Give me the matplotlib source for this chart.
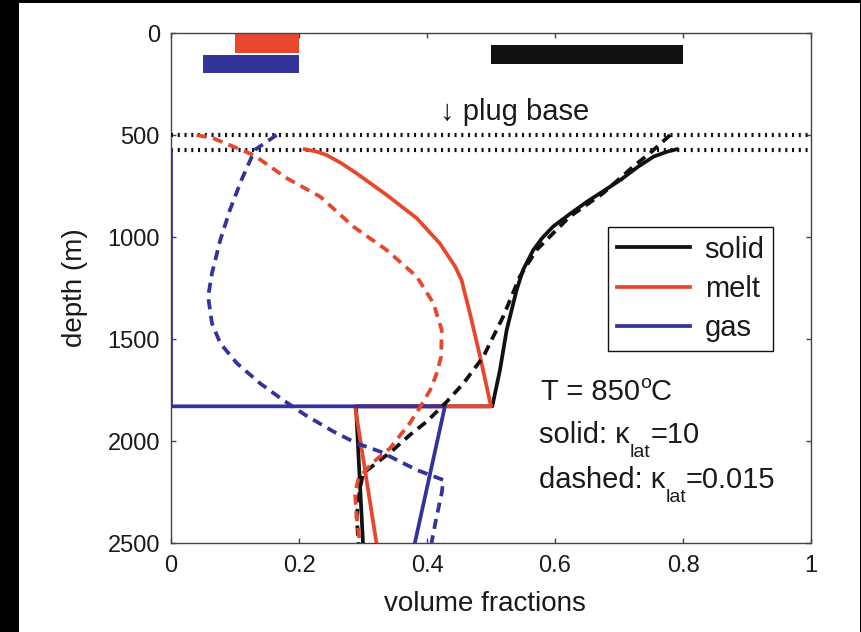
import matplotlib
matplotlib.use("Agg")
import matplotlib.pyplot as plt
from matplotlib.patches import Rectangle
from matplotlib.lines import Line2D
from matplotlib.legend_handler import HandlerLine2D

plt.rcParams['font.family'] = ['Liberation Sans', 'DejaVu Sans']

# ---------------- data ----------------
# solid lines: kappa_lat = 10
solid_k10_depth = [570, 582, 606, 655, 721, 827, 890, 949, 1005, 1064, 1162, 1260, 1456, 1652, 1830, 1830, 2500]
solid_k10_frac = [0.790, 0.775, 0.754, 0.730, 0.702, 0.650, 0.622, 0.597, 0.580, 0.566, 0.550, 0.540, 0.5245, 0.514, 0.502, 0.289, 0.300]

melt_k10_depth = [570, 580, 598, 638, 688, 794, 908, 1031, 1145, 1211, 1374, 1587, 1830, 1830, 2500]
melt_k10_frac = [0.209, 0.226, 0.243, 0.266, 0.290, 0.337, 0.384, 0.420, 0.444, 0.454, 0.467, 0.483, 0.500, 0.2875, 0.321]

gas_k10_depth = [573, 1830, 1830, 2500]
gas_k10_frac = [0.0, 0.0, 0.428, 0.381]

# dashed lines: kappa_lat = 0.015
solid_k0015_depth = [500, 590, 655, 786, 900, 1064, 1194, 1390, 1587, 1717, 1807, 1905, 1971, 2044, 2101, 2158, 2240, 2371, 2500]
solid_k0015_frac = [0.780, 0.748, 0.722, 0.675, 0.623, 0.571, 0.545, 0.519, 0.488, 0.457, 0.431, 0.3995, 0.373, 0.347, 0.324, 0.300, 0.295, 0.290, 0.293]

melt_k0015_depth = [500, 516, 598, 712, 802, 949, 1064, 1194, 1325, 1456, 1587, 1670, 1750, 1830, 1913, 2036, 2109, 2183, 2256, 2371, 2500]
melt_k0015_frac = [0.040, 0.066, 0.129, 0.181, 0.233, 0.285, 0.337, 0.384, 0.410, 0.423, 0.422, 0.415, 0.405, 0.390, 0.373, 0.342, 0.314, 0.293, 0.2875, 0.290, 0.295]

gas_k0015_depth = [500, 573, 721, 868, 1015, 1178, 1292, 1423, 1521, 1619, 1717, 1799, 1873, 1954, 2011, 2052, 2142, 2191, 2256, 2371, 2500]
gas_k0015_frac = [0.165, 0.131, 0.110, 0.092, 0.077, 0.064, 0.058, 0.064, 0.077, 0.103, 0.139, 0.175, 0.210, 0.254, 0.290, 0.327, 0.384, 0.4255, 0.423, 0.415, 0.407]

# observed ranges (bars at top)
range_labels = ['melt', 'gas', 'solid']
range_min = [0.10, 0.05, 0.50]
range_max = [0.20, 0.20, 0.80]
range_depth_top = [0, 108, 60]
range_depth_bottom = [100, 198, 150]

plug_depths = [500, 572]

x_ticks = [0, 0.2, 0.4, 0.6, 0.8, 1]
x_tick_labels = ['0', '0.2', '0.4', '0.6', '0.8', '1']
y_ticks = [0, 500, 1000, 1500, 2000, 2500]

RED = '#E8472E'
BLUE = '#33339A'
BLACK = '#111111'
TXT = '#1a1a1a'

# ---------------- figure ----------------
fig = plt.figure(figsize=(8.62, 6.32), dpi=100)
fig.patch.set_facecolor('white')
for (x0, y0, w, h) in [(0, 0, 19 / 862, 1), (0, 1 - 3 / 632, 1, 3 / 632), (1 - 2 / 862, 0, 2 / 862, 1)]:
    fig.patches.append(Rectangle((x0, y0), w, h, transform=fig.transFigure,
                                 facecolor='black', edgecolor='none', zorder=0))

ax = fig.add_axes([171 / 862, 1 - 543 / 632, 640 / 862, 510 / 632])

lw = 2.7
bar_colors = [RED, BLUE, BLACK]
for lo, hi, dt, db, c in zip(range_min, range_max, range_depth_top, range_depth_bottom, bar_colors):
    ax.barh((dt + db) / 2, hi - lo, left=lo, height=db - dt, color=c, edgecolor='none', zorder=2)

for d in plug_depths:
    ax.axhline(d, color=BLACK, lw=3.0, linestyle=(0, (0.5, 1.12)), dash_capstyle='butt', zorder=3)

ax.plot(solid_k10_frac, solid_k10_depth, color=BLACK, lw=lw, label='solid', zorder=4)
ax.plot(melt_k10_frac, melt_k10_depth, color=RED, lw=lw, label='melt', zorder=4)
ax.plot(gas_k10_frac, gas_k10_depth, color=BLUE, lw=lw, label='gas', zorder=4)

dash = (0, (2.7, 1.75))
ax.plot(solid_k0015_frac, solid_k0015_depth, color=BLACK, lw=lw, linestyle=dash, zorder=5)
ax.plot(melt_k0015_frac, melt_k0015_depth, color=RED, lw=lw, linestyle=dash, zorder=5)
ax.plot(gas_k0015_frac, gas_k0015_depth, color=BLUE, lw=lw, linestyle=dash, zorder=5)

ax.set_xlim(0, 1)
ax.set_ylim(2500, 0)
ax.set_xticks(x_ticks)
ax.set_xticklabels(x_tick_labels)
ax.set_yticks(y_ticks)

spine_c = '#444444'
for s in ax.spines.values():
    s.set_color(spine_c)
    s.set_linewidth(1.0)
ax.tick_params(axis='both', direction='in', length=3.5, width=1.0, color=spine_c,
               top=True, right=True, labelsize=17, labelcolor=TXT)
ax.tick_params(axis='x', pad=9)
ax.tick_params(axis='y', pad=8)

ax.set_xlabel('volume fractions', fontsize=20, color=TXT, labelpad=10)
ax.xaxis.label.set_x(0.49)
ax.set_ylabel('depth (m)', fontsize=20, color=TXT, labelpad=14)

ax.text(0.42, 428, '\u2193 plug base', fontsize=21, color=TXT, ha='left', va='baseline', zorder=6)

# annotation texts with manual sub/superscripts
renderer = fig.canvas.get_renderer()
PT = 72.0 / fig.dpi


def rich_text(x, y, parts, size=21):
    """parts: list of (string, fontsize, baseline offset in points)."""
    dx = 0.0
    for s, fs, dy in parts:
        t = ax.annotate(s, xy=(x, y), xycoords='data', xytext=(dx, dy), textcoords='offset points',
                        fontsize=fs, color=TXT, ha='left', va='baseline', zorder=6)
        bb = t.get_window_extent(renderer)
        dx += bb.width * PT


rich_text(0.578, 1799, [('T = 850', 21, 0), ('o', 14, 8.4), ('C', 21, 0)])
rich_text(0.575, 2008, [('solid: \u03ba', 21, 0), ('lat', 14, -10.0), ('=10', 21, 0)])
rich_text(0.575, 2232, [('dashed: \u03ba', 21, 0), ('lat', 14, -10.0), ('=0.015', 21, 0)])


class ShiftHandler(HandlerLine2D):
    def __init__(self, off, **kw):
        super().__init__(**kw)
        self.off = off

    def create_artists(self, legend, orig_handle, xdescent, ydescent, width, height, fontsize, trans):
        arts = super().create_artists(legend, orig_handle, xdescent, ydescent, width, height, fontsize, trans)
        for a in arts:
            xd = list(a.get_xdata())
            if len(xd) == 2 and a.get_linestyle() not in ('None', ''):
                a.set_xdata([xd[0] + self.off, xd[1]])
        return arts


leg = ax.legend(loc='upper left', bbox_to_anchor=(0.683, 0.620), borderaxespad=0,
                fontsize=21, handlelength=2.51, handletextpad=0.5, labelspacing=0.39,
                borderpad=0.3, fancybox=False, framealpha=1, edgecolor=BLACK,
                handler_map={Line2D: ShiftHandler(12.4)})
leg.get_frame().set_linewidth(1.0)
for t in leg.get_texts():
    t.set_color(TXT)

fig.savefig('out.png', dpi=100, facecolor=fig.get_facecolor())
